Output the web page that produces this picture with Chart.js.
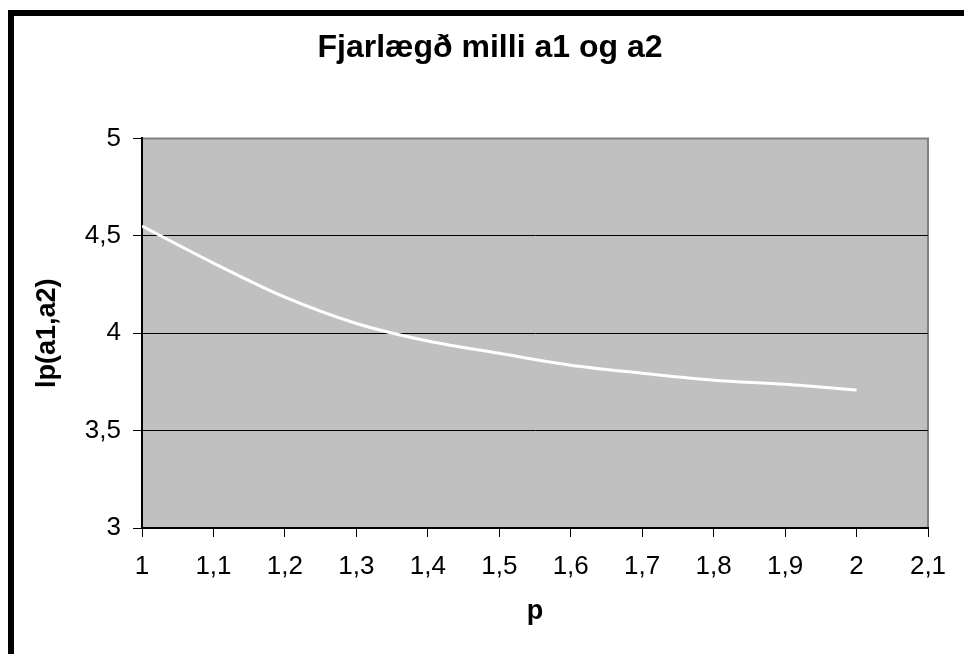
<!DOCTYPE html>
<html>
<head>
<meta charset="utf-8">
<script src="https://cdn.jsdelivr.net/npm/chart.js@4.4.0/dist/chart.umd.min.js"></script>
<style>
  html, body { margin: 0; padding: 0; background: #fff; overflow: hidden; }
  #frame { position: absolute; left: 8px; top: 10px; width: 2000px; height: 2000px; border: 6px solid #000; z-index: 0; }
  #wrap { position: absolute; left: 0; top: 0; width: 964px; height: 654px; z-index: 1; }
</style>
</head>
<body>
<div id="frame"></div>
<div id="wrap"><canvas id="c" width="964" height="654"></canvas></div>
<script>
const chartTitle = "Fjarlægð milli a1 og a2";
const xTitle = "p";
const yTitle = "lp(a1,a2)";
const pValues = [1, 1.1, 1.2, 1.3, 1.4, 1.5, 1.6, 1.7, 1.8, 1.9, 2];
const lpValues = [4.55, 4.36, 4.185, 4.05, 3.96, 3.897, 3.836, 3.795, 3.759, 3.738, 3.708];
const xTickLabels = ["1", "1,1", "1,2", "1,3", "1,4", "1,5", "1,6", "1,7", "1,8", "1,9", "2", "2,1"];
const yTickLabels = ["3", "3,5", "4", "4,5", "5"];

const FONT = "'Liberation Sans', Arial, sans-serif";

const plotBg = {
  id: 'plotBg',
  beforeDraw(chart) {
    const a = chart.chartArea, ctx = chart.ctx;
    ctx.save();
    ctx.fillStyle = '#C0C0C0';
    ctx.fillRect(a.left, a.top, a.right - a.left, a.bottom - a.top);
    ctx.strokeStyle = '#808080';
    ctx.lineWidth = 2;
    ctx.beginPath();
    ctx.moveTo(a.left, a.top);
    ctx.lineTo(a.right, a.top);
    ctx.lineTo(a.right, a.bottom);
    ctx.stroke();
    ctx.restore();
  }
};

new Chart(document.getElementById('c'), {
  type: 'line',
  data: {
    datasets: [{
      data: pValues.map((p, i) => ({ x: p, y: lpValues[i] })),
      borderColor: '#FFFFFF',
      borderWidth: 3,
      pointRadius: 0,
      tension: 0.4,
      cubicInterpolationMode: 'monotone',
      fill: false
    }]
  },
  options: {
    responsive: false,
    animation: false,
    layout: { padding: { left: 16, right: 0, top: 0, bottom: 0 } },
    plugins: {
      legend: { display: false },
      tooltip: { enabled: false },
      title: {
        display: true,
        text: chartTitle,
        color: '#000',
        font: { family: FONT, size: 32, weight: 'bold' },
        padding: { top: 29, bottom: 71 }
      }
    },
    scales: {
      x: {
        type: 'linear',
        min: 1, max: 2.1,
        afterBuildTicks(scale) {
          scale.ticks = xTickLabels.map((_, i) => ({ value: 1 + i / 10 }));
        },
        afterFit(scale) { scale.height = 126; },
        ticks: {
          color: '#000',
          font: { family: FONT, size: 26 },
          padding: 14,
          maxRotation: 0,
          autoSkip: false,
          callback: (v, i) => xTickLabels[i]
        },
        grid: {
          drawOnChartArea: false,
          color: '#000',
          tickColor: '#000',
          tickLength: 9
        },
        border: { color: '#000', width: 2 },
        title: {
          display: true,
          text: xTitle,
          color: '#000',
          font: { family: FONT, size: 27, weight: 'bold' },
          padding: { top: 0, bottom: 26 }
        }
      },
      y: {
        type: 'linear',
        min: 3, max: 5,
        afterBuildTicks(scale) {
          scale.ticks = yTickLabels.map((_, i) => ({ value: 3 + i * 0.5 }));
        },
        afterFit(scale) { scale.width = 126; },
        ticks: {
          color: '#000',
          font: { family: FONT, size: 26 },
          padding: 12,
          callback: (v, i) => yTickLabels[i]
        },
        grid: {
          color: (ctx) => (ctx.tick && ctx.tick.value === 5) ? '#808080' : '#000',
          tickColor: '#000',
          tickLength: 9,
          lineWidth: 1
        },
        border: { color: '#000', width: 2 },
        title: {
          display: true,
          text: yTitle,
          color: '#000',
          font: { family: FONT, size: 27, weight: 'bold' },
          padding: { top: 15, bottom: 0 }
        }
      },
      spacer: {
        type: 'linear',
        position: 'right',
        display: true,
        min: 0, max: 1,
        ticks: { display: false },
        grid: { display: false, drawOnChartArea: false },
        border: { display: false },
        title: { display: false },
        afterFit(scale) { scale.width = 36; }
      }
    }
  },
  plugins: [plotBg]
});
</script>
</body>
</html>
